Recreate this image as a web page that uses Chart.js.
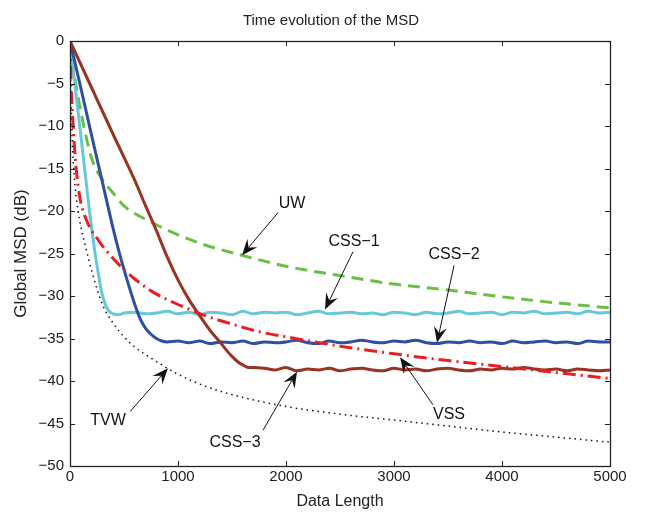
<!DOCTYPE html>
<html>
<head>
<meta charset="utf-8">
<script src="https://cdn.jsdelivr.net/npm/chart.js@4"></script>
<style>
  html, body { margin: 0; padding: 0; background: #fff; }
  canvas { display: block; }
</style>
</head>
<body>
<canvas id="msdChart" width="646" height="516"></canvas>
<script>
// values (x = data length, y = MSD in dB)
const uwX = [0, 10, 25, 50, 100, 200, 300, 400, 500, 750, 1000, 1250, 1500, 2000, 2500, 3000, 3500, 4000, 4500, 5000];
const uwY = [0, -1.5, -2.6, -4.8, -8.3, -13.8, -16.3, -17.9, -19.4, -21.3, -22.8, -24.0, -24.9, -26.5, -27.6, -28.6, -29.3, -30.1, -30.8, -31.4];

const vssX = [0, 10, 25, 50, 75, 100, 150, 200, 250, 300, 400, 500, 600, 750, 1000, 1250, 1500, 1750, 2000, 2500, 3000, 3500, 4000, 4500, 5000];
const vssY = [0, -5, -9, -14, -17, -19, -21, -22.3, -23.2, -24.1, -25.6, -26.9, -28.0, -29.4, -31.0, -32.3, -33.3, -34.2, -34.8, -35.9, -36.8, -37.6, -38.3, -39.0, -39.7];

const tvwX = [0, 10, 25, 50, 75, 100, 150, 200, 300, 400, 500, 600, 750, 1000, 1250, 1500, 2000, 2500, 3000, 3500, 4000, 4500, 5000];
const tvwY = [0, -7, -13, -17.5, -20, -21.8, -24.5, -27, -31, -33.2, -34.8, -36.0, -37.3, -39.2, -40.6, -41.6, -43.0, -43.9, -44.6, -45.3, -46.0, -46.6, -47.2];

const css1X = [0, 25, 50, 100, 150, 200, 250, 300, 350, 400, 450, 500,
  600, 700, 800, 900, 1000, 1100, 1200, 1300, 1400, 1500, 1600, 1700, 1800, 1900, 2000,
  2100, 2200, 2300, 2400, 2500, 2600, 2700, 2800, 2900, 3000, 3100, 3200, 3300, 3400, 3500,
  3600, 3700, 3800, 3900, 4000, 4100, 4200, 4300, 4400, 4500, 4600, 4700, 4800, 4900, 5000];
const css1Y = [0, -2.8, -5.6, -11.1, -16.6, -22.0, -26.4, -29.9, -31.6, -32.1, -32.2, -32.0,
  -31.9, -32.1, -32.0, -31.8, -32.1, -31.9, -32.2, -31.9, -32.0, -32.2, -31.8, -32.1, -31.9, -32.0, -31.9,
  -32.2, -32.0, -31.8, -32.1, -32.0, -31.9, -32.1, -32.0, -32.2, -31.9, -32.0, -32.2, -31.9, -32.1, -32.0,
  -31.8, -32.1, -32.0, -31.9, -32.2, -31.9, -32.0, -31.8, -32.1, -32.0, -31.9, -32.1, -31.8, -32.0, -31.9];

const css2X = [0, 100, 200, 300, 400, 450, 500, 550, 600, 650, 700, 750, 800, 850, 900,
  1000, 1100, 1200, 1300, 1400, 1500, 1600, 1700, 1800, 1900, 2000,
  2100, 2200, 2300, 2400, 2500, 2600, 2700, 2800, 2900, 3000, 3100, 3200, 3300, 3400, 3500,
  3600, 3700, 3800, 3900, 4000, 4100, 4200, 4300, 4400, 4500, 4600, 4700, 4800, 4900, 5000];
const css2Y = [0, -5.5, -11.1, -16.6, -22.1, -24.6, -26.9, -29.0, -31.0, -32.7, -33.8, -34.5, -35.0, -35.3, -35.4,
  -35.3, -35.5, -35.3, -35.6, -35.4, -35.5, -35.3, -35.6, -35.4, -35.5, -35.4,
  -35.2, -35.5, -35.6, -35.3, -35.5, -35.4, -35.2, -35.4, -35.5, -35.3, -35.4, -35.2, -35.5, -35.6, -35.4,
  -35.5, -35.3, -35.5, -35.4, -35.6, -35.3, -35.5, -35.4, -35.3, -35.5, -35.4, -35.6, -35.3, -35.4, -35.4];

const css3X = [0, 200, 400, 600, 700, 800, 900, 1000, 1100, 1200, 1300, 1400, 1450, 1500, 1550, 1600, 1650, 1700,
  1800, 1900, 2000, 2100, 2200, 2300, 2400, 2500, 2600, 2700, 2800, 2900, 3000,
  3100, 3200, 3300, 3400, 3500, 3600, 3700, 3800, 3900, 4000,
  4100, 4200, 4300, 4400, 4500, 4600, 4700, 4800, 4900, 5000];
const css3Y = [0, -5.5, -11.0, -16.4, -19.4, -22.3, -25.4, -28.1, -30.4, -32.3, -34.1, -35.6, -36.4, -37.1, -37.7, -38.1, -38.4, -38.4,
  -38.5, -38.7, -38.4, -38.8, -38.6, -38.7, -38.5, -38.8, -38.6, -38.5, -38.7, -38.8, -38.5,
  -38.7, -38.6, -38.8, -38.6, -38.5, -38.7, -38.8, -38.6, -38.7, -38.5,
  -38.6, -38.4, -38.6, -38.7, -38.6, -38.8, -38.6, -38.7, -38.8, -38.7];

// callouts: label text, text anchor, arrow tail and arrow tip (data units)
const callouts = [
  { text: 'UW',    at: [2056, -19.1], from: [1926, -20.2], to: [1593, -25.2] },
  { text: 'CSS\u22121', at: [2630, -23.6], from: [2620, -24.8], to: [2361, -31.6] },
  { text: 'CSS\u22122', at: [3556, -25.1], from: [3556, -26.4], to: [3398, -35.5] },
  { text: 'VSS',   at: [3509, -44.0], from: [3361, -42.8], to: [3056, -37.2] },
  { text: 'CSS\u22123', at: [1528, -47.2], from: [1787, -45.8], to: [2102, -38.9] },
  { text: 'TVW',   at: [352, -44.7],  from: [556, -43.6],  to: [907, -38.5] }
];

const chartTitle = 'Time evolution of the MSD';

const pts = (xs, ys) => xs.map((x, i) => ({ x: x, y: ys[i] }));

Chart.defaults.font.family = '"Liberation Sans", Arial, Helvetica, sans-serif';
Chart.defaults.color = '#222';

const framePlugin = {
  id: 'frame',
  afterDatasetsDraw(chart) {
    const { ctx, chartArea: a, scales: { x, y } } = chart;
    const len = 5;
    ctx.save();
    ctx.strokeStyle = '#222';
    ctx.lineWidth = 1;
    ctx.beginPath();
    x.ticks.forEach(t => {
      const px = Math.round(x.getPixelForValue(t.value)) + 0.5;
      ctx.moveTo(px, a.bottom); ctx.lineTo(px, a.bottom - len);
      ctx.moveTo(px, a.top); ctx.lineTo(px, a.top + len);
    });
    y.ticks.forEach(t => {
      const py = Math.round(y.getPixelForValue(t.value)) + 0.5;
      ctx.moveTo(a.left, py); ctx.lineTo(a.left + len, py);
      ctx.moveTo(a.right, py); ctx.lineTo(a.right - len, py);
    });
    ctx.stroke();
    ctx.lineWidth = 1.3;
    ctx.strokeRect(Math.round(a.left) + 0.5, Math.round(a.top) + 0.5,
      Math.round(a.right - a.left), Math.round(a.bottom - a.top));

    // title, centred a little left of the axes centre as in the figure
    ctx.fillStyle = '#222';
    ctx.font = '15px "Liberation Sans", Arial, sans-serif';
    ctx.textAlign = 'center';
    ctx.textBaseline = 'middle';
    ctx.fillText(chartTitle, (a.left + a.right) / 2 - 9, a.top - 20);
    ctx.restore();
  }
};

const calloutPlugin = {
  id: 'callouts',
  afterDatasetsDraw(chart) {
    const { ctx, scales: { x, y } } = chart;
    ctx.save();
    ctx.strokeStyle = '#111';
    ctx.fillStyle = '#111';
    ctx.lineWidth = 1;
    ctx.font = '16px "Liberation Sans", Arial, sans-serif';
    ctx.textAlign = 'center';
    ctx.textBaseline = 'middle';
    callouts.forEach(c => {
      const x0 = x.getPixelForValue(c.from[0]), y0 = y.getPixelForValue(c.from[1]);
      const x1 = x.getPixelForValue(c.to[0]), y1 = y.getPixelForValue(c.to[1]);
      const ang = Math.atan2(y1 - y0, x1 - x0);
      const head = 16, half = 6.5, notch = 10;
      const bx = x1 - head * Math.cos(ang), by = y1 - head * Math.sin(ang);
      const nx = x1 - notch * Math.cos(ang), ny = y1 - notch * Math.sin(ang);
      ctx.beginPath();
      ctx.moveTo(x0, y0);
      ctx.lineTo(nx, ny);
      ctx.stroke();
      ctx.beginPath();
      ctx.moveTo(x1, y1);
      ctx.lineTo(bx - half * Math.sin(ang), by + half * Math.cos(ang));
      ctx.lineTo(nx, ny);
      ctx.lineTo(bx + half * Math.sin(ang), by - half * Math.cos(ang));
      ctx.closePath();
      ctx.fill();
      ctx.fillText(c.text, x.getPixelForValue(c.at[0]), y.getPixelForValue(c.at[1]));
    });
    ctx.restore();
  }
};

const line = (label, xs, ys, color, width, dash) => ({
  label: label,
  data: pts(xs, ys),
  borderColor: color,
  borderWidth: width,
  borderDash: dash,
  pointRadius: 0,
  fill: false,
  cubicInterpolationMode: 'monotone'
});

new Chart(document.getElementById('msdChart'), {
  type: 'line',
  data: {
    datasets: [
      line('VSS', vssX, vssY, '#ec1c24', 3, [13, 5, 2, 5]),
      line('CSS-3', css3X, css3Y, '#993322', 3, []),
      line('CSS-2', css2X, css2Y, '#2f4fa3', 3, []),
      line('CSS-1', css1X, css1Y, '#66c9d9', 3, []),
      line('TVW', tvwX, tvwY, '#111111', 1.5, [1.5, 4]),
      line('UW', uwX, uwY, '#6abf45', 3, [12, 7])
    ]
  },
  options: {
    responsive: false,
    animation: false,
    layout: { padding: { left: 0, right: 36, top: 41, bottom: 0 } },
    plugins: {
      legend: { display: false },
      tooltip: { enabled: false },
      title: { display: false }
    },
    scales: {
      x: {
        type: 'linear',
        min: 0,
        max: 5000,
        ticks: { stepSize: 1000, padding: 2, font: { size: 15 }, color: '#222', callback: v => String(v) },
        grid: { display: false, drawTicks: false },
        border: { display: false },
        title: { display: true, text: 'Data Length', font: { size: 16 }, color: '#222', padding: { top: 0, bottom: 5 } },
        afterFit: s => { s.height = 50; }
      },
      y: {
        min: -50,
        max: 0,
        ticks: {
          stepSize: 5,
          padding: 6,
          font: { size: 15 },
          color: '#222',
          callback: v => String(v).replace('-', '\u2212')
        },
        grid: { display: false, drawTicks: false },
        border: { display: false },
        title: { display: true, text: 'Global MSD (dB)', font: { size: 17 }, color: '#222', padding: { top: 11, bottom: 0 } },
        afterFit: s => { s.width = 70; }
      }
    }
  },
  plugins: [framePlugin, calloutPlugin]
});
</script>
</body>
</html>
